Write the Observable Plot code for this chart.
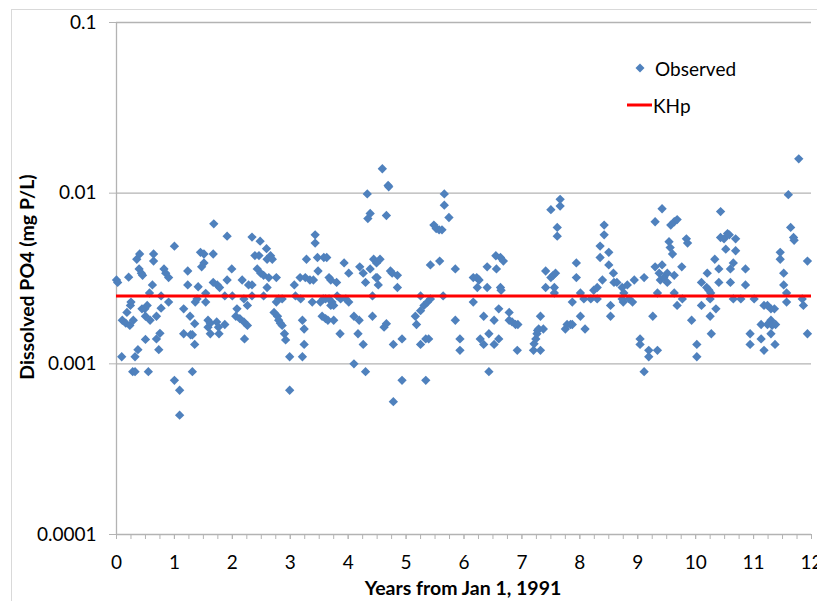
<!DOCTYPE html>
<html><head><meta charset="utf-8">
<script src="https://cdn.jsdelivr.net/npm/d3@7"></script>
<script src="https://cdn.jsdelivr.net/npm/@observablehq/plot@0.6"></script>
<style>
body{margin:0;background:#fff;}
#wrap{position:relative;width:817px;height:601px;overflow:hidden;font-family:Lato,"Open Sans",sans-serif;}
.lg{position:absolute;display:flex;align-items:center;font-size:19px;color:#000;height:24px;}
</style></head><body><div id="wrap"></div>
<script>
// Years from Jan 1, 1991 and observed dissolved PO4 (mg P/L)
const years = [
0.00,0.02,0.09,0.10,0.16,0.18,0.21,0.23,0.24,0.25,0.28,0.29,0.32,0.32,0.35,0.37,0.39,0.40,0.43,0.44,
0.45,0.49,0.50,0.50,0.53,0.55,0.57,0.58,0.62,0.64,0.64,0.69,0.69,0.73,0.75,0.77,0.77,0.82,0.85,0.90,
0.90,1.00,1.00,1.09,1.09,1.16,1.16,1.23,1.23,1.27,1.28,1.31,1.31,1.35,1.35,1.36,1.39,1.41,1.45,1.47,
1.51,1.51,1.54,1.54,1.58,1.58,1.62,1.62,1.67,1.67,1.68,1.73,1.74,1.76,1.77,1.78,1.87,1.87,1.91,1.91,
1.99,2.00,2.06,2.08,2.13,2.17,2.20,2.20,2.21,2.26,2.26,2.28,2.34,2.34,2.34,2.39,2.43,2.46,2.48,2.49,
2.54,2.54,2.59,2.60,2.60,2.63,2.66,2.69,2.72,2.76,2.76,2.78,
2.80,2.86,2.80,2.83,2.86,2.90,2.92,2.99,2.99,3.07,3.09,3.18,3.17,3.21,3.21,3.24,3.24,3.26,3.28,3.34,
3.38,3.40,3.43,3.43,3.47,3.48,3.52,3.55,3.57,3.58,3.61,3.61,3.63,3.65,3.67,3.67,3.70,3.70,3.72,3.75,
3.75,3.80,3.81,3.86,3.87,3.93,3.96,4.01,4.01,4.10,4.10,4.17,4.19,4.20,4.26,4.26,4.30,4.30,4.33,4.34,
4.38,4.38,4.42,4.42,4.44,4.48,4.49,4.50,4.52,4.55,4.59,4.62,4.66,4.66,4.69,4.70,4.73,4.76,4.78,4.78,
4.85,4.85,4.93,4.93,5.16,5.18,5.25,5.25,5.25,5.31,5.34,5.34,5.37,5.39,5.42,5.42,5.48,5.52,5.57,5.58,
5.62,5.64,5.66,5.66,5.74,
5.85,5.85,5.93,5.93,6.16,6.16,6.22,6.23,6.26,6.28,6.34,6.34,6.40,6.40,6.43,6.43,6.52,6.52,6.55,6.56,
6.60,6.60,6.63,6.63,6.64,6.68,6.78,6.78,6.83,6.89,6.92,6.93,7.20,7.21,7.24,7.26,7.27,7.29,7.32,7.32,
7.37,7.41,7.41,7.50,7.50,7.54,7.56,7.56,7.58,7.61,7.61,7.66,7.66,7.75,7.78,7.84,7.87,7.87,7.94,7.94,
8.01,8.01,8.07,8.09,8.19,8.24,8.30,8.30,8.35,8.35,8.39,8.42,8.42,8.50,8.50,8.53,8.53,8.58,8.59,8.64,
8.73,8.75,8.76,8.73,8.82,8.85,
8.91,8.94,9.04,9.04,9.11,9.11,9.19,9.19,9.26,9.30,9.30,9.34,9.34,9.37,9.39,9.42,9.42,9.45,9.51,9.51,
9.54,9.56,9.57,9.60,9.63,9.63,9.63,9.68,9.68,9.76,9.77,9.84,9.86,9.93,10.02,10.02,10.10,10.10,10.19,10.20,
10.23,10.25,10.25,10.26,10.27,10.33,10.35,10.40,10.40,10.43,10.43,10.49,10.52,10.55,10.58,10.60,10.60,10.65,10.65,10.69,
10.69,10.78,10.86,10.86,10.94,10.94,11.01,11.13,11.13,11.18,11.18,11.24,11.24,11.30,11.30,11.30,11.32,11.36,11.37,11.38,
11.46,11.46,11.52,11.52,11.57,11.57,11.60,11.64,11.69,11.70,11.78,11.84,11.86,11.93,11.93
];
const values = [
0.00310,0.00300,0.00110,0.00180,0.00173,0.00200,0.00322,0.00168,0.00220,0.00230,0.00090,0.00180,0.00090,0.00110,0.00410,0.00121,0.00360,0.00440,0.00340,0.00210,
0.00330,0.00210,0.00190,0.00139,0.00220,0.00090,0.00260,0.00180,0.00290,0.00440,0.00400,0.00190,0.00140,0.00121,0.00151,0.00250,0.00212,0.00360,0.00340,0.00320,
0.00230,0.00489,0.00080,0.00070,0.00050,0.00210,0.00150,0.00350,0.00290,0.00190,0.00148,0.00148,0.00090,0.00172,0.00130,0.00230,0.00240,0.00283,0.00450,0.00370,
0.00440,0.00390,0.00259,0.00230,0.00180,0.00164,0.00173,0.00150,0.00440,0.00300,0.00661,0.00176,0.00290,0.00164,0.00150,0.00280,0.00250,0.00170,0.00560,0.00310,
0.00360,0.00250,0.00190,0.00210,0.00184,0.00310,0.00176,0.00240,0.00140,0.00168,0.00220,0.00290,0.00553,0.00290,0.00250,0.00431,0.00360,0.00431,0.00523,0.00340,
0.00330,0.00250,0.00473,0.00410,0.00280,0.00320,0.00430,0.00410,0.00200,0.00320,0.00230,0.00190,
0.00240,0.00240,0.00180,0.00173,0.00168,0.00150,0.00138,0.00110,0.00070,0.00290,0.00250,0.00240,0.00320,0.00180,0.00110,0.00160,0.00130,0.00320,0.00410,0.00310,
0.00230,0.00310,0.00570,0.00510,0.00420,0.00350,0.00230,0.00190,0.00240,0.00420,0.00240,0.00184,0.00420,0.00180,0.00320,0.00240,0.00310,0.00220,0.00230,0.00180,
0.00220,0.00300,0.00250,0.00150,0.00240,0.00390,0.00240,0.00340,0.00230,0.00190,0.00100,0.00150,0.00180,0.00370,0.00340,0.00130,0.00300,0.00090,0.00990,0.00710,
0.00760,0.00360,0.00250,0.00190,0.00410,0.00320,0.00390,0.00320,0.00290,0.00410,0.01390,0.00164,0.00740,0.00172,0.01110,0.01090,0.00350,0.00340,0.00130,0.00060,
0.00330,0.00280,0.00140,0.00080,0.00190,0.00170,0.00205,0.00250,0.00130,0.00220,0.00140,0.00080,0.00230,0.00140,0.00240,0.00380,0.00650,0.00620,0.00610,0.00400,
0.00610,0.00250,0.00990,0.00850,0.00720,
0.00360,0.00180,0.00140,0.00120,0.00320,0.00230,0.00320,0.00280,0.00310,0.00140,0.00190,0.00130,0.00370,0.00280,0.00150,0.00090,0.00180,0.00130,0.00430,0.00360,
0.00210,0.00140,0.00420,0.00280,0.00270,0.00400,0.00200,0.00180,0.00176,0.00170,0.00120,0.00170,0.00120,0.00131,0.00140,0.00150,0.00157,0.00160,0.00190,0.00120,
0.00160,0.00350,0.00280,0.00320,0.00800,0.00330,0.00280,0.00260,0.00340,0.00630,0.00560,0.00920,0.00840,0.00160,0.00170,0.00170,0.00170,0.00230,0.00390,0.00320,
0.00260,0.00190,0.00240,0.00160,0.00240,0.00270,0.00240,0.00280,0.00490,0.00420,0.00310,0.00650,0.00570,0.00450,0.00380,0.00220,0.00190,0.00340,0.00300,0.00300,
0.00280,0.00230,0.00260,0.00240,0.00290,0.00240,
0.00230,0.00310,0.00140,0.00130,0.00320,0.00090,0.00120,0.00110,0.00190,0.00370,0.00680,0.00260,0.00120,0.00340,0.00310,0.00380,0.00810,0.00320,0.00340,0.00300,
0.00520,0.00480,0.00650,0.00440,0.00680,0.00330,0.00260,0.00700,0.00220,0.00370,0.00240,0.00540,0.00510,0.00180,0.00130,0.00110,0.00300,0.00220,0.00280,0.00340,
0.00270,0.00240,0.00190,0.00260,0.00150,0.00410,0.00210,0.00360,0.00300,0.00780,0.00550,0.00540,0.00470,0.00580,0.00570,0.00360,0.00300,0.00390,0.00240,0.00540,
0.00460,0.00240,0.00360,0.00290,0.00150,0.00130,0.00240,0.00170,0.00140,0.00220,0.00120,0.00220,0.00170,0.00210,0.00180,0.00150,0.00168,0.00210,0.00130,0.00170,
0.00450,0.00410,0.00340,0.00290,0.00260,0.00230,0.00980,0.00630,0.00550,0.00530,0.01590,0.00240,0.00220,0.00400,0.00150
];
const KHp = 0.0025;
const yTicks = [0.0001, 0.001, 0.01, 0.1];
const yTickLabels = ["0.0001", "0.001", "0.01", "0.1"];
const xTicks = [0,1,2,3,4,5,6,7,8,9,10,11,12];
const xMinorTicks = d3.range(0, 12.001, 0.25);
const seriesNames = ["Observed", "KHp"];
const colors = {Observed: "#4F81BD", KHp: "#FF0000"};

const data = years.map((t, i) => ({t, v: values[i]}));
const axisColor = "#b3b3b3";

const plot = Plot.plot({
  width: 817, height: 601,
  marginLeft: 116, marginRight: 6, marginTop: 22, marginBottom: 67,
  style: {fontFamily: "Lato, 'Open Sans', sans-serif", fontSize: "19px", color: "#000", background: "#fff"},
  x: {domain: [0, 12]},
  y: {type: "log", domain: [0.0001, 0.1]},
  marks: [
    Plot.ruleY(yTicks.slice(1), {stroke: axisColor, strokeWidth: 1.3}),
    Plot.ruleX([0], {stroke: axisColor, strokeWidth: 1.3}),
    Plot.ruleY([0.0001], {stroke: axisColor, strokeWidth: 1.3}),
    Plot.axisY({ticks: yTicks, tickFormat: (d) => yTickLabels[yTicks.indexOf(d)], tickSize: 7, tickPadding: 13, stroke: axisColor, label: null, fill: "#000"}),
    Plot.axisX({ticks: xMinorTicks, tickFormat: () => "", tickSize: 5, stroke: axisColor, label: null}),
    Plot.axisX({ticks: xTicks, tickFormat: d => String(d), tickSize: 5, tickPadding: 16, stroke: axisColor, label: null, fill: "#000"}),
    Plot.dot(data, {x: "t", y: "v", symbol: "diamond2", r: 4.2, fill: colors.Observed, stroke: null}),
    Plot.ruleY([KHp], {x1: 0, x2: 12, stroke: colors.KHp, strokeWidth: 3})
  ]
});

const svg = d3.select(plot);
svg.append("rect").attr("x", 11.5).attr("y", 9.5).attr("width", 1000).attr("height", 1000)
  .attr("fill", "none").attr("stroke", "#d9d9d9");
svg.append("text").attr("transform", "translate(29,277) rotate(-90)")
  .attr("text-anchor", "middle").attr("dominant-baseline", "middle")
  .attr("font-weight", "bold").attr("font-size", "19.5px").text("Dissolved PO4 (mg P/L)");
svg.append("text").attr("x", 463).attr("y", 590)
  .attr("text-anchor", "middle").attr("dominant-baseline", "middle")
  .attr("font-weight", "bold").attr("font-size", "19.5px").text("Years from Jan 1, 1991");

const wrap = document.getElementById("wrap");
wrap.appendChild(plot);

const lg1 = document.createElement("div");
lg1.className = "lg"; lg1.style.left = "627px"; lg1.style.top = "56px";
lg1.innerHTML = `<svg width="26" height="24"><path d="M13,7.5L17.5,12L13,16.5L8.5,12Z" fill="${colors.Observed}"/></svg><span style="margin-left:2px">${seriesNames[0]}</span>`;
wrap.appendChild(lg1);
const lg2 = document.createElement("div");
lg2.className = "lg"; lg2.style.left = "627px"; lg2.style.top = "93px";
lg2.innerHTML = `<svg width="26" height="24"><line x1="0" x2="25" y1="12" y2="12" stroke="${colors.KHp}" stroke-width="3"/></svg><span>${seriesNames[1]}</span>`;
wrap.appendChild(lg2);
</script></body></html>
